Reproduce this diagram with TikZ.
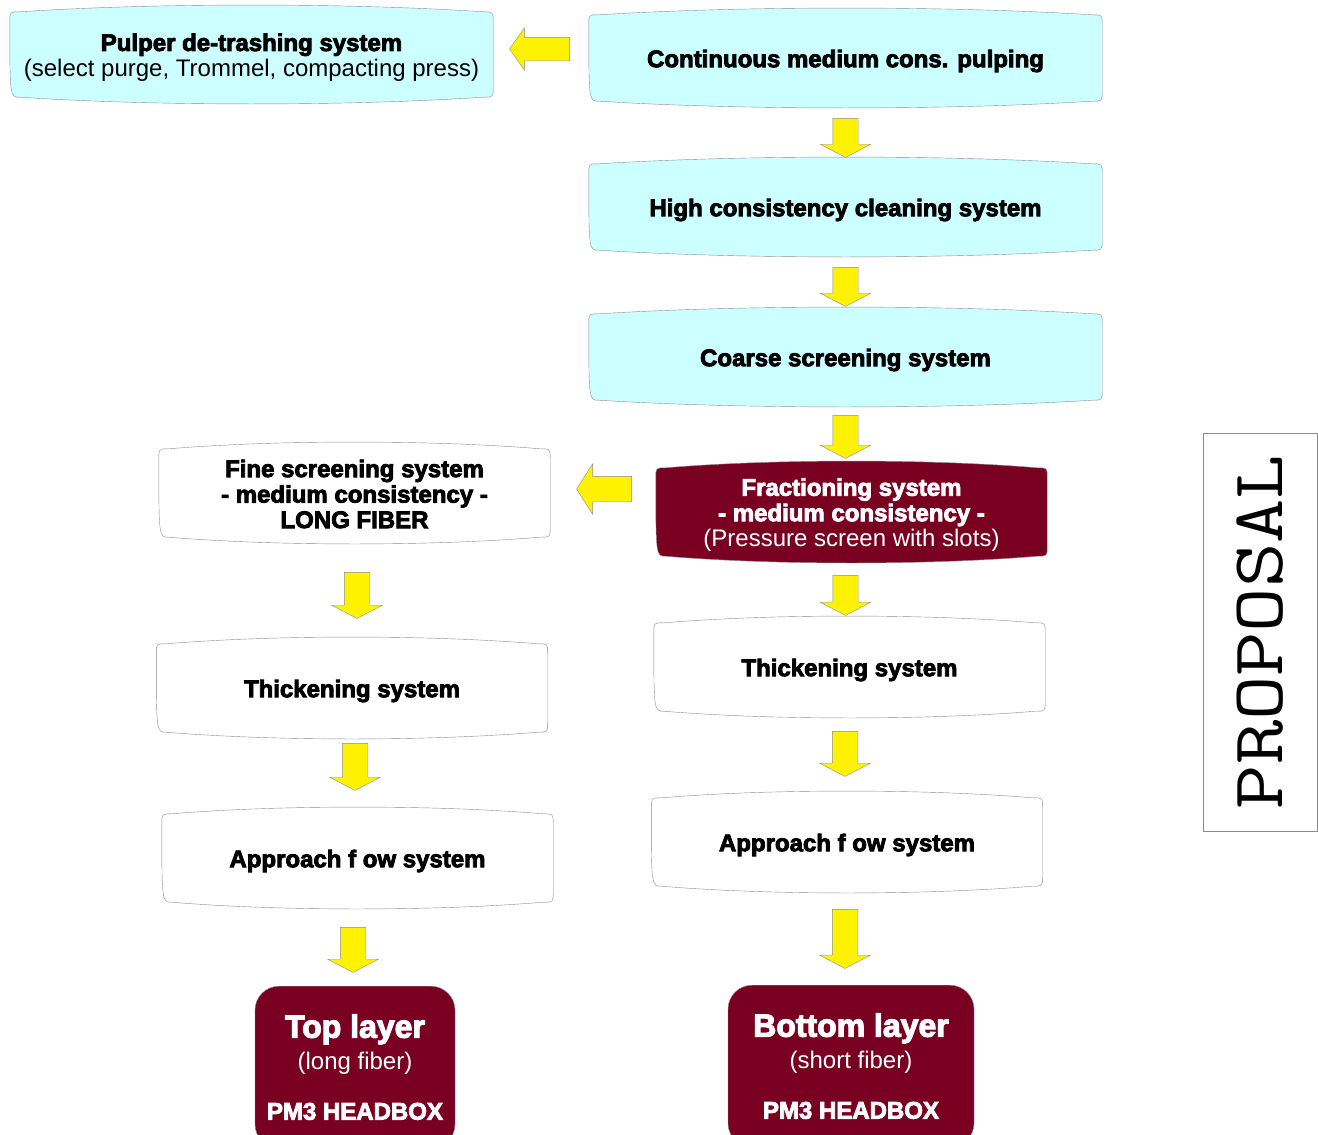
\documentclass[tikz,border=0pt]{standalone}
\usepackage{fontspec}
\usepackage{graphicx}
\setmainfont{Liberation Sans}[BoldFeatures={FakeBold=3.5}]
\usetikzlibrary{calc,backgrounds,shapes.arrows}

\definecolor{boxcyan}{HTML}{CCFFFF}
\definecolor{boxred}{HTML}{7A0021}
\definecolor{boxline}{HTML}{8C8C8C}

% outline with bulging top and bottom edges round a node, raised by #1
\newcommand{\bulgebox}[3][3]{%
  \coordinate (bnw) at ($(#2.north west)+(0,-#1)$);
  \coordinate (bne) at ($(#2.north east)+(0,-#1)$);
  \coordinate (bsw) at ($(#2.south west)+(0,-#1)$);
  \coordinate (bse) at ($(#2.south east)+(0,-#1)$);
  \path[draw=boxline, fill=#3]
    ($(bnw)+(0,10)$) .. controls (bnw) .. ($(bnw)+(10,0)$)
    .. controls ($(bnw)!.3!(bne)+(0,-9)$) and ($(bnw)!.7!(bne)+(0,-9)$) .. ($(bne)+(-10,0)$)
    .. controls (bne) .. ($(bne)+(0,10)$)
    -- ($(bse)+(0,-10)$)
    .. controls (bse) .. ($(bse)+(-10,0)$)
    .. controls ($(bsw)!.7!(bse)+(0,9)$) and ($(bsw)!.3!(bse)+(0,9)$) .. ($(bsw)+(10,0)$)
    .. controls (bsw) .. cycle;}

\begin{document}
\begin{tikzpicture}[x=1pt,y=-1pt]
      \tikzset{stage/.style={inner sep=0pt, align=center, font=\fontsize{24}{25.5}\selectfont\bfseries, minimum width=391pt, minimum height=88pt},
               wide/.style={stage, minimum width=513pt, minimum height=86pt},
               layer/.style={draw=boxline, fill=boxred, text=white, rounded corners=24pt, inner sep=0pt, align=center, font=\fontsize{24}{26}\selectfont\bfseries, minimum height=162pt, anchor=north},
               downarrow/.style={single arrow, draw=boxline, fill=yellow, shape border rotate=270, inner sep=12.5pt, single arrow head extend=12.5pt, single arrow tip angle=125, minimum width=0pt, anchor=tail},
               leftarrow/.style={downarrow, shape border rotate=180}}
      \useasboundingbox (0,0) rectangle (1318,1135);
      \clip (0,0) rectangle (1318,1135);
%% Stages
	%main line
      	\node[stage, minimum width=483pt, minimum height=85pt] (pulper) at (251.5,57.5) {Pulper de-trashing system\\ \mdseries(select purge, Trommel, compacting press)};
      	\node[wide] (cont) at (845.5,61) {Continuous medium cons. pulping};
      	\node[wide] (high) at (845.5,210) {High consistency cleaning system};
      	\node[wide] (coarse) at (845.5,360) {Coarse screening system};
      	\node[stage, text=white] (frac) at (851.5,515) {Fractioning system\\- medium consistency -\\ \mdseries(Pressure screen with slots)};
	%long fiber
      	\node[stage] (fine) at (354.5,494) {Fine screening system\\- medium consistency -\\LONG FIBER};
      	\node[stage] (thickL) at (352,691) {Thickening system};
      	\node[stage] (apprL) at (357.5,861) {Approach f ow system};
	%short fiber
      	\node[stage] (thickR) at (849.5,670) {Thickening system};
      	\node[stage] (apprR) at (847,845) {Approach f ow system};
	%headbox
      	\node[layer, minimum width=200pt] (top) at (355,986) {{\fontsize{32}{32}\selectfont Top layer}\\[6pt] \mdseries(long fiber)\\[24pt] PM3 HEADBOX};
      	\node[layer, minimum width=246pt] (bottom) at (851,985) {{\fontsize{32}{32}\selectfont Bottom layer}\\[6pt] \mdseries(short fiber)\\[24pt] PM3 HEADBOX};
      	\node[draw=boxline, rotate=90, minimum width=398pt, minimum height=114pt, font=\ttfamily\fontsize{86}{86}\selectfont] (proposal) at (1260,632) {\scalebox{1}[0.85]{PROPOSAL}};
%% Outlines
	\begin{scope}[on background layer]
		\foreach \n/\c/\o in {pulper/boxcyan/3, cont/boxcyan/3, high/boxcyan/3, coarse/boxcyan/3, frac/boxred/3, fine/white/1, thickL/white/3, thickR/white/3, apprL/white/3, apprR/white/3}
			\bulgebox[\o]{\n}{\c};
	\end{scope}
%% Arrows
	%down
		\node[downarrow, minimum height=39pt] (a1) at ($(cont.south)+(0,14)$) {};
		\node[downarrow, minimum height=39pt] (a2) at ($(high.south)+(0,14)$) {};
		\node[downarrow, minimum height=43pt] (a3) at ($(coarse.south)+(0,12)$) {};
		\node[downarrow, minimum height=40pt] (a4) at ($(frac.south)+(-6,16)$) {};
		\node[downarrow, minimum height=45pt] (a5) at ($(thickR.south)+(-4.5,17)$) {};
		\node[downarrow, minimum height=59pt] (a6) at ($(apprR.south)+(-2,20)$) {};
		\node[downarrow, minimum height=46pt] (a7) at ($(fine.south)+(2.5,34)$) {};
		\node[downarrow, minimum height=47pt] (a8) at ($(thickL.south)+(3,8)$) {};
		\node[downarrow, minimum height=45pt] (a9) at ($(apprL.south)+(-4.5,22)$) {};
	%left
		\node[leftarrow, inner sep=11.5pt, single arrow head extend=9.5pt, single arrow tip angle=110, minimum height=60pt] (l1) at ($(cont.west)+(-19,-12)$) {};
		\node[leftarrow, single arrow tip angle=115, minimum height=55pt] (l2) at ($(frac.west)+(-24,-26)$) {};

\end{tikzpicture}
\end{document}
